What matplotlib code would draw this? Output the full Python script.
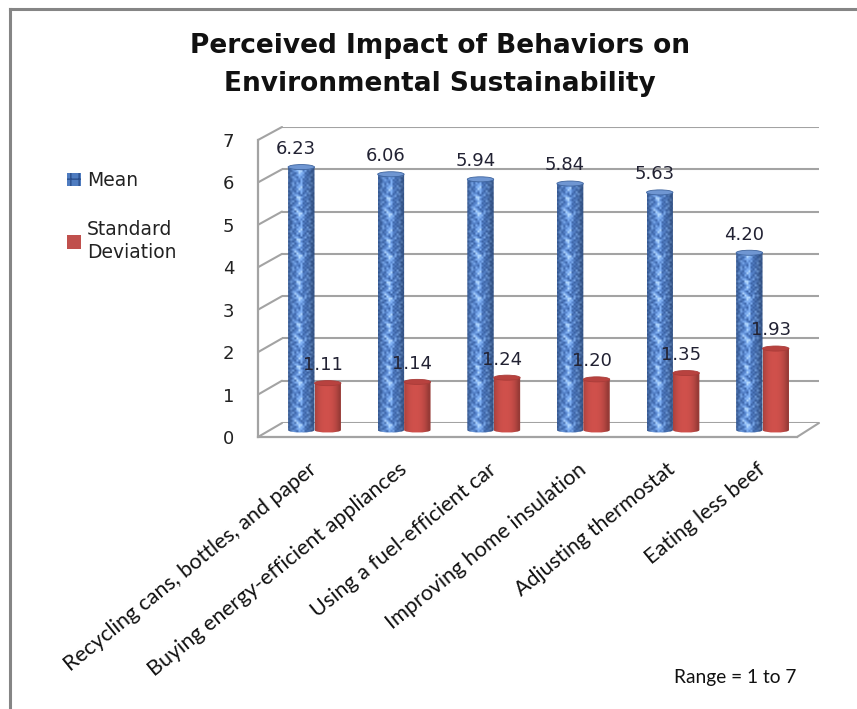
"""Perceived impact of behaviors, drawn as faux 3-D cylinder columns."""

import numpy as np
from matplotlib import pyplot as plt
from matplotlib.lines import Line2D
from matplotlib.patches import ConnectionPatch, Ellipse, Patch, PathPatch
from matplotlib.path import Path

categories = [
    "Recycling cans, bottles, and paper",
    "Buying energy-efficient appliances",
    "Using a fuel-efficient car",
    "Improving home insulation",
    "Adjusting thermostat",
    "Eating less beef",
]
mean_values = [6.23, 6.06, 5.94, 5.84, 5.63, 4.20]
std_values = [1.11, 1.14, 1.24, 1.20, 1.35, 1.93]
y_ticks = [0, 1, 2, 3, 4, 5, 6, 7]

FIG_W, FIG_H = 857, 709
GRID_COLOR = "#a3a3a3"
TEXT_FONT = "Lato"

# repeating weave for the blue columns, 0 = dark .. 3 = lightest
WEAVE = [
    "1012112010210",
    "0121021201101",
    "1101222110120",
    "0210132201011",
    "1012233120101",
    "0120321021210",
    "1013210110101",
    "0122102012010",
    "1011221101201",
    "0201132010110",
    "1120122102101",
    "0101231011020",
    "1210332101110",
    "0112210120101",
    "1021102011210",
    "0110212102011",
    "1201132110101",
    "0110223011210",
    "1021122102011",
    "0120212010120",
    "1011102101101",
]
WEAVE_COLORS = np.array(
    [[0.22, 0.37, 0.62], [0.32, 0.49, 0.76], [0.47, 0.65, 0.90], [0.66, 0.80, 0.97]]
)


def axes_at(left, right, bottom, top, **kwargs):
    """Add axes placed by pixel edges, measured from the top left corner."""
    rect = [left / FIG_W, 1 - bottom / FIG_H, (right - left) / FIG_W, (bottom - top) / FIG_H]
    return fig.add_axes(rect, **kwargs)


def cylinder_path(x0, x1, top, drop=0.08):
    """Outline of a column side with a rounded bottom edge."""
    verts = [
        (x0, top), (x1, top), (x1, 0), (x1, -drop), (x0, -drop), (x0, 0), (x0, top),
    ]
    codes = [
        Path.MOVETO, Path.LINETO, Path.LINETO, Path.CURVE4, Path.CURVE4, Path.CURVE4,
        Path.CLOSEPOLY,
    ]
    return Path(verts, codes)


def round_shade(size, edge=0.78, peak=1.06):
    """Horizontal light falloff across a cylinder, brightest left of centre."""
    pos = np.linspace(-1, 1, size)
    return edge + (peak - edge) * (1 - np.abs(pos + 0.15) ** 2.4).clip(0, 1)


def paint_column(ax, bar, rgb, cap_face, cap_edge):
    """Fill a bar with an image clipped to its cylinder outline and add its cap."""
    x0, x1 = bar.get_x(), bar.get_x() + bar.get_width()
    top = bar.get_height()
    image = ax.imshow(
        rgb,
        extent=(x0, x1, -0.1, top + 0.1),
        origin="lower",
        aspect="auto",
        interpolation="bilinear",
        zorder=3,
    )
    image.set_clip_path(PathPatch(cylinder_path(x0, x1, top), transform=ax.transData))
    ax.add_patch(
        Ellipse(((x0 + x1) / 2, top), x1 - x0, 0.12, facecolor=cap_face,
                edgecolor=cap_edge, linewidth=0.6, zorder=4)
    )


def weave_image(height):
    rows = int((height + 0.2) * 42.2 / 2)
    tile = np.array([[int(c) for c in row] for row in WEAVE])
    repeats = rows // tile.shape[0] + 1
    weave = np.tile(tile, (repeats, 1))[:rows]
    rgb = WEAVE_COLORS[weave] * round_shade(tile.shape[1])[None, :, None]
    return rgb.clip(0, 1)


def red_image():
    base = np.array([0.80, 0.31, 0.29])
    return (base * round_shade(40, edge=0.74, peak=1.02)[None, :, None]).clip(0, 1)


fig = plt.figure(figsize=(FIG_W / 100, FIG_H / 100), dpi=100)

# outer frame: only the top and left edges fall inside the canvas
fig.add_artist(Line2D([10 / FIG_W, 10 / FIG_W], [0, 1 - 9 / FIG_H], color="#858585", lw=2.2))
fig.add_artist(Line2D([10 / FIG_W, 1], [1 - 9 / FIG_H, 1 - 9 / FIG_H], color="#858585", lw=2.2))

# back wall with the gridlines
wall = axes_at(282, 819, 423, 127)
wall.set_ylim(0, 7)
wall.set_yticks(y_ticks)
wall.set_xticks([])
wall.tick_params(length=0, labelleft=False)
wall.grid(True, axis="y", color=GRID_COLOR, linewidth=1.5)
wall.set_axisbelow(True)
for spine in wall.spines.values():
    spine.set_visible(False)

# front edge carrying the value axis
front = axes_at(258, 797, 437, 140)
front.patch.set_visible(False)
front.set_ylim(0, 7)
front.set_yticks(y_ticks)
front.set_xticks([])
front.tick_params(axis="y", length=0, pad=17, labelsize=13, labelcolor="#222222")
for label in front.get_yticklabels():
    label.set_fontfamily("DejaVu Sans")
for side in ("top", "right"):
    front.spines[side].set_visible(False)
for side in ("left", "bottom"):
    front.spines[side].set_color(GRID_COLOR)
    front.spines[side].set_linewidth(1.6)

# side wall and floor edges joining the two planes
for level in y_ticks:
    fig.add_artist(
        ConnectionPatch(
            (0, level), (0, level), coordsA=front.transData, coordsB=wall.transData,
            color=GRID_COLOR, linewidth=1.5,
        )
    )
fig.add_artist(
    ConnectionPatch(
        (1, 0), (1, 0), coordsA=front.transAxes, coordsB=wall.transAxes,
        color=GRID_COLOR, linewidth=1.5,
    )
)

# columns, with the floor plane running through the middle of their bases
columns = axes_at(258, 819, 430 + 0.5 * 42.2, 430 - 7 * 42.2)
columns.patch.set_visible(False)
columns.set_yticks([])
for spine in columns.spines.values():
    spine.set_visible(False)

positions = np.arange(len(categories))
bar_width = 0.295
mean_bars = columns.bar(positions - bar_width / 2, mean_values, bar_width, color="none")
std_bars = columns.bar(positions + bar_width / 2, std_values, bar_width, color="none")

for bar, value in zip(mean_bars, mean_values):
    paint_column(columns, bar, weave_image(value), "#6f96d2", "#3f659f")
for bar in std_bars:
    paint_column(columns, bar, red_image(), "#b8423f", "#a93c39")
columns.set_xlim(-0.6306, 5.63)
columns.set_ylim(-0.5, 7)

for bar, value in list(zip(mean_bars, mean_values)) + list(zip(std_bars, std_values)):
    columns.annotate(
        f"{value:.2f}",
        (bar.get_x() + bar.get_width() / 2, value),
        xytext=(-3.6, 13),
        textcoords="offset points",
        ha="center",
        va="center",
        fontsize=13,
        family="DejaVu Sans",
        color="#222233",
        zorder=5,
    )

columns.set_xticks(positions)
columns.set_xticklabels(
    categories, rotation=39, ha="right", va="center", rotation_mode="anchor",
    family=TEXT_FONT, fontsize=15.5, color="#111111",
)
columns.tick_params(axis="x", length=0, pad=11.6)

fig.suptitle(
    "Perceived Impact of Behaviors on\nEnvironmental Sustainability",
    x=440 / FIG_W, y=1 - 65 / FIG_H, va="center", family="DejaVu Sans",
    fontsize=19, fontweight="bold", color="#111111", linespacing=1.6,
)

legend_handles = [
    Patch(facecolor="#4f7cc0", edgecolor="#2b4f8c", hatch="++", linewidth=0),
    Patch(facecolor="#c0504d"),
]
legend = fig.legend(
    legend_handles, ["Mean", "Standard\nDeviation"],
    loc="upper left", bbox_to_anchor=(67 / FIG_W, 1 - 171 / FIG_H),
    frameon=False, handlelength=0.75, handleheight=0.75, handletextpad=0.3,
    labelspacing=1.6, borderpad=0, borderaxespad=0,
    prop={"family": "DejaVu Sans", "size": 13.5}, labelcolor="#222222",
)
for text in legend.get_texts():
    text.set_linespacing(1.3)

fig.text(735 / FIG_W, 1 - 678 / FIG_H, "Range = 1 to 7", ha="center", va="center",
         family=TEXT_FONT, fontsize=13.8, color="#111111")

fig.savefig("out.png", dpi=100)
